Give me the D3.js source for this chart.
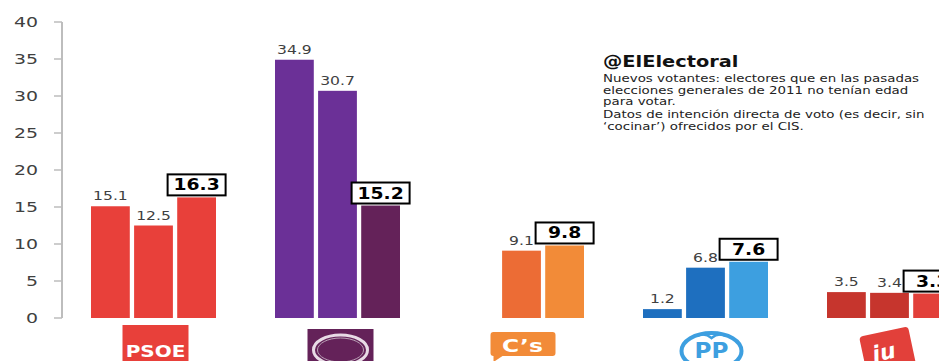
<!DOCTYPE html>
<html>
<head>
  <meta charset='utf-8'/>
  <style>
body { margin: 0; background: #fff; }
text { font-family: "DejaVu Sans", sans-serif; }
.tick-label { font-size: 14px; fill: #404040; }
.val { font-size: 13px; fill: #404040; }
.val-box { font-size: 15px; font-weight: bold; fill: #000; }
.note { font-size: 10.8px; fill: #222; }
  </style>
  <script src="https://d3js.org/d3.v7.min.js"></script>
</head>
<body>
<svg width="939" height="361"></svg>
<script>

// data
var parties = ["PSOE", "Podemos", "Cs", "PP", "IU"];
var series1 = [15.1, 34.9, null, 1.2, 3.5];   // first bar of each party
var series2 = [12.5, 30.7, 9.1, 6.8, 3.4];
var series3 = [16.3, 15.2, 9.8, 7.6, 3.3];   // boxed value
var colors1 = ["#e8403a", "#6b3097", "#ec6c35", "#1e6fbf", "#c6352d"];
var colors2 = ["#e8403a", "#6b3097", "#ec6c35", "#1e6fbf", "#c6352d"];
var colors3 = ["#e8403a", "#642259", "#f28b38", "#3d9fe0", "#e2403a"];
var yTicks = [0, 5, 10, 15, 20, 25, 30, 35, 40];
var noteTitle = "@ElElectoral";
var noteLines = [
  "Nuevos votantes: electores que en las pasadas",
  "elecciones generales de 2011 no tenían edad",
  "para votar.",
  "Datos de intención directa de voto (es decir, sin",
  "‘cocinar’) ofrecidos por el CIS."
];

var svg = d3.select("svg");
var sx = 1.2; // the original picture is stretched horizontally

var y = d3.scaleLinear().domain([0, 40]).range([318, 22]);
var x0 = d3.scaleBand().domain(parties).range([91, 91 + 184 * parties.length]);
var x1 = d3.scaleBand().domain([0, 1, 2]).range([0, 125]).paddingInner(0.1);

function stretched(g, px, py, k) {
  return g.append("g").attr("transform", "translate(" + px + "," + py + ") scale(" + k + ",1)");
}

// axis
svg.append("line").attr("x1", 62).attr("x2", 62).attr("y1", y(40)).attr("y2", y(0))
  .attr("stroke", "#bdbdbd").attr("stroke-width", 2);
yTicks.forEach(function(t) {
  svg.append("line").attr("x1", 54).attr("x2", 62).attr("y1", y(t)).attr("y2", y(t))
    .attr("stroke", "#bdbdbd").attr("stroke-width", 1.5);
  stretched(svg, 38, y(t) + 5, 1.35).append("text").attr("class", "tick-label")
    .attr("text-anchor", "end").text(t);
});

// bars
var bars = [];
parties.forEach(function(p, i) {
  [series1[i], series2[i], series3[i]].forEach(function(v, j) {
    if (v == null) return;
    bars.push({ party: p, j: j, v: v, color: [colors1, colors2, colors3][j][i] });
  });
});

svg.selectAll("rect.bar").data(bars).enter().append("rect")
  .attr("class", "bar")
  .attr("x", function(d) { return x0(d.party) + x1(d.j); })
  .attr("width", x1.bandwidth())
  .attr("y", function(d) { return y(d.v); })
  .attr("height", function(d) { return y(0) - y(d.v); })
  .attr("fill", function(d) { return d.color; });

bars.forEach(function(d) {
  var cx = x0(d.party) + x1(d.j) + x1.bandwidth() / 2;
  if (d.j < 2) {
    stretched(svg, cx, y(d.v) - 6, sx).append("text").attr("class", "val")
      .attr("text-anchor", "middle").text(d.v.toFixed(1));
  } else {
    svg.append("rect").attr("x", cx - 29).attr("y", y(d.v) - 23).attr("width", 58).attr("height", 21)
      .attr("fill", "#fff").attr("stroke", "#000").attr("stroke-width", 2);
    stretched(svg, cx, y(d.v) - 7, 1.25).append("text").attr("class", "val-box")
      .attr("text-anchor", "middle").text(d.v.toFixed(1));
  }
});

// party logos under each group
function logoX(p) { return x0(p) + x1(1) + x1.bandwidth() / 2; }

var cx = logoX("PSOE");
svg.append("rect").attr("x", cx - 31).attr("y", 325).attr("width", 66).attr("height", 40).attr("fill", "#e8403a");
stretched(svg, cx + 2, 357, 1.25).append("text").attr("text-anchor", "middle")
  .attr("font-size", 16).attr("font-weight", "bold").attr("fill", "#fff").text("PSOE");

cx = logoX("Podemos");
svg.append("rect").attr("x", cx - 30).attr("y", 329).attr("width", 66).attr("height", 36).attr("fill", "#642259");
svg.append("ellipse").attr("cx", cx + 3).attr("cy", 350).attr("rx", 27).attr("ry", 15)
  .attr("fill", "none").attr("stroke", "#e8dbe6").attr("stroke-width", 3);
svg.append("ellipse").attr("cx", cx + 3).attr("cy", 350).attr("rx", 23).attr("ry", 12)
  .attr("fill", "none").attr("stroke", "#b9a0b5").attr("stroke-width", 1);

cx = logoX("Cs");
svg.append("path").attr("fill", "#f28b38")
  .attr("d", "M" + (cx - 31) + ",335 q0,-3 3,-3 h59 q3,0 3,3 v18 q0,3 -3,3 h-50 l-9,6 v-6 h0 q-3,0 -3,-3 z");
stretched(svg, cx + 1, 352, 1.3).append("text").attr("text-anchor", "middle")
  .attr("font-size", 18).attr("font-weight", "bold").attr("fill", "#fff").text("C’s");

cx = logoX("PP");
svg.append("ellipse").attr("cx", cx + 6).attr("cy", 351).attr("rx", 30).attr("ry", 18)
  .attr("fill", "#fff").attr("stroke", "#3d9fe0").attr("stroke-width", 4);
svg.append("path").attr("d", "M" + (cx - 8) + ",336 q7,-4 14,2 q7,-6 14,-2")
  .attr("fill", "none").attr("stroke", "#3d9fe0").attr("stroke-width", 2.5);
stretched(svg, cx + 6, 358, 1.1).append("text").attr("text-anchor", "middle")
  .attr("font-size", 21).attr("font-weight", "bold").attr("fill", "#3d9fe0").text("PP");

cx = logoX("IU");
var iu = svg.append("g").attr("transform", "translate(" + (cx - 1) + ",355) rotate(-12)");
iu.append("rect").attr("x", -25).attr("y", -24).attr("width", 50).attr("height", 48).attr("rx", 4).attr("fill", "#e2403a");
iu.append("text").attr("x", -4).attr("y", 4).attr("text-anchor", "middle")
  .attr("font-size", 22).attr("font-weight", "bold").attr("font-style", "italic").attr("fill", "#fff").text("iu");

// note
stretched(svg, 603, 67, 1.21).append("text").attr("font-size", 16).attr("font-weight", "bold")
  .attr("fill", "#111").text(noteTitle);
var lineY = [82, 94, 105, 118, 130];
noteLines.forEach(function(l, i) {
  stretched(svg, 603, lineY[i], 1.24).append("text").attr("class", "note").text(l);
});

</script>
</body>
</html>
